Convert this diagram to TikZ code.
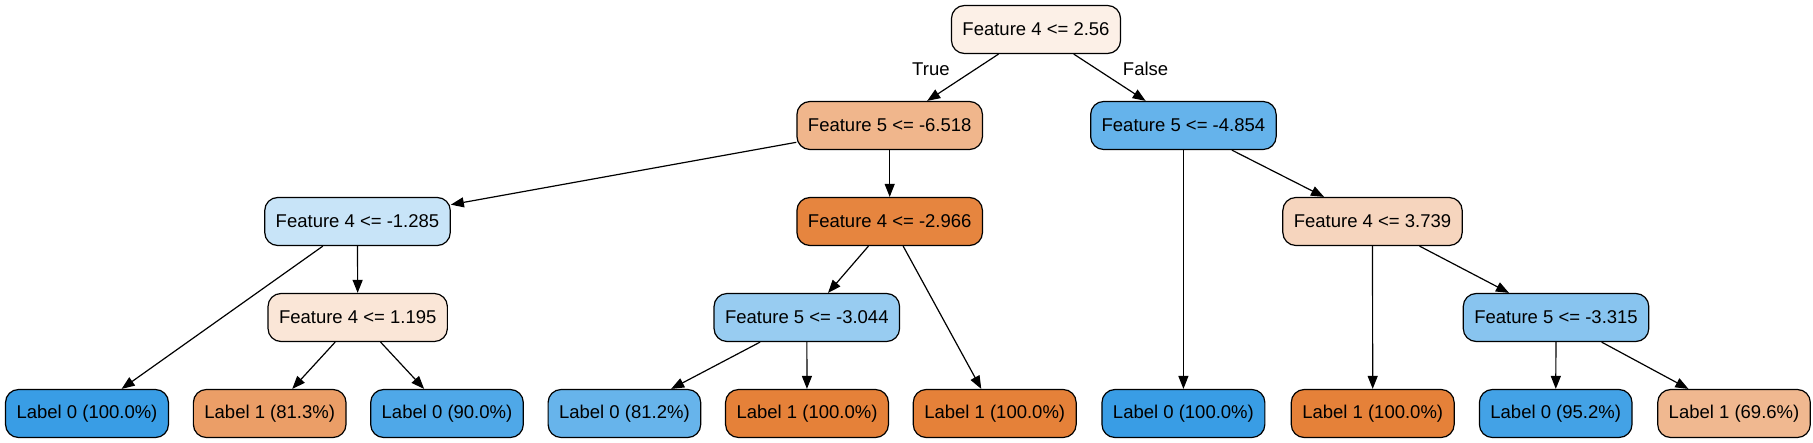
\documentclass[tikz,border=0pt]{standalone}
\usepackage{fontspec}
\setmainfont{Liberation Sans}
\usepackage{xcolor}
\usetikzlibrary{arrows.meta,shapes}

\definecolor{lab0}{RGB}{57,157,229}
\definecolor{lab1}{RGB}{229,129,57}

\begin{document}
\begin{tikzpicture}[x=0.5pt, y=-0.5pt, ->, >={Triangle[length=6.5pt,width=5pt]}, semithick,
    every node/.style={font=\fontsize{9.25}{11}\selectfont},
    box/.style={draw, semithick, rounded corners=6.5pt, minimum height=24pt, inner xsep=5.5pt}]

      \useasboundingbox (0,0) rectangle (1813,443);

      % splits
      \node[box, fill=lab1!12!white] (n0) at (1036,29.5) {Feature 4 <= 2.56};
      \node[box, fill=lab1!58!white] (n1) at (889.7,125.5) {Feature 5 <= -6.518};
      \node[box, fill=lab0!78!white] (n2) at (1183.4,125.5) {Feature 5 <= -4.854};
      \node[box, fill=lab0!28!white] (n3) at (357.5,221.5) {Feature 4 <= -1.285};
      \node[box, fill=lab1!97!white] (n4) at (889.7,221.5) {Feature 4 <= -2.966};
      \node[box, fill=lab1!33!white] (n5) at (1372.5,221.5) {Feature 4 <= 3.739};
      \node[box, fill=lab1!20!white] (n6) at (357.7,317.5) {Feature 4 <= 1.195};
      \node[box, fill=lab0!52!white] (n7) at (806.8,317.5) {Feature 5 <= -3.044};
      \node[box, fill=lab0!60!white] (n8) at (1556,317.5) {Feature 5 <= -3.315};

      % leaves
      \node[box, fill=lab0] (l0) at (87,413.5) {Label 0 (100.0\%)};
      \node[box, fill=lab1!77!white] (l1) at (269.7,413.5) {Label 1 (81.3\%)};
      \node[box, fill=lab0!89!white] (l2) at (447,413.5) {Label 0 (90.0\%)};
      \node[box, fill=lab0!77!white] (l3) at (624.4,413.5) {Label 0 (81.2\%)};
      \node[box, fill=lab1] (l4) at (807,413.5) {Label 1 (100.0\%)};
      \node[box, fill=lab1] (l5) at (994.7,413.5) {Label 1 (100.0\%)};
      \node[box, fill=lab0] (l6) at (1183.4,413.5) {Label 0 (100.0\%)};
      \node[box, fill=lab1] (l7) at (1372.7,413.5) {Label 1 (100.0\%)};
      \node[box, fill=lab0!95!white] (l8) at (1555.7,413.5) {Label 0 (95.2\%)};
      \node[box, fill=lab1!56!white] (l9) at (1734,413.5) {Label 1 (69.6\%)};

      \path
      (n0) edge node[above left, xshift=-3pt, yshift=-2.5pt] {True} (n1)
      (n0) edge node[above right, xshift=3pt, yshift=-2.5pt] {False} (n2)
      (n1) edge (n3)
      (n1) edge (n4)
      (n2) edge (l6)
      (n2) edge (n5)
      (n3) edge (l0)
      (n3) edge (n6)
      (n4) edge (n7)
      (n4) edge (l5)
      (n5) edge (l7)
      (n5) edge (n8)
      (n6) edge (l1)
      (n6) edge (l2)
      (n7) edge (l3)
      (n7) edge (l4)
      (n8) edge (l8)
      (n8) edge (l9);
    \end{tikzpicture}
\end{document}
